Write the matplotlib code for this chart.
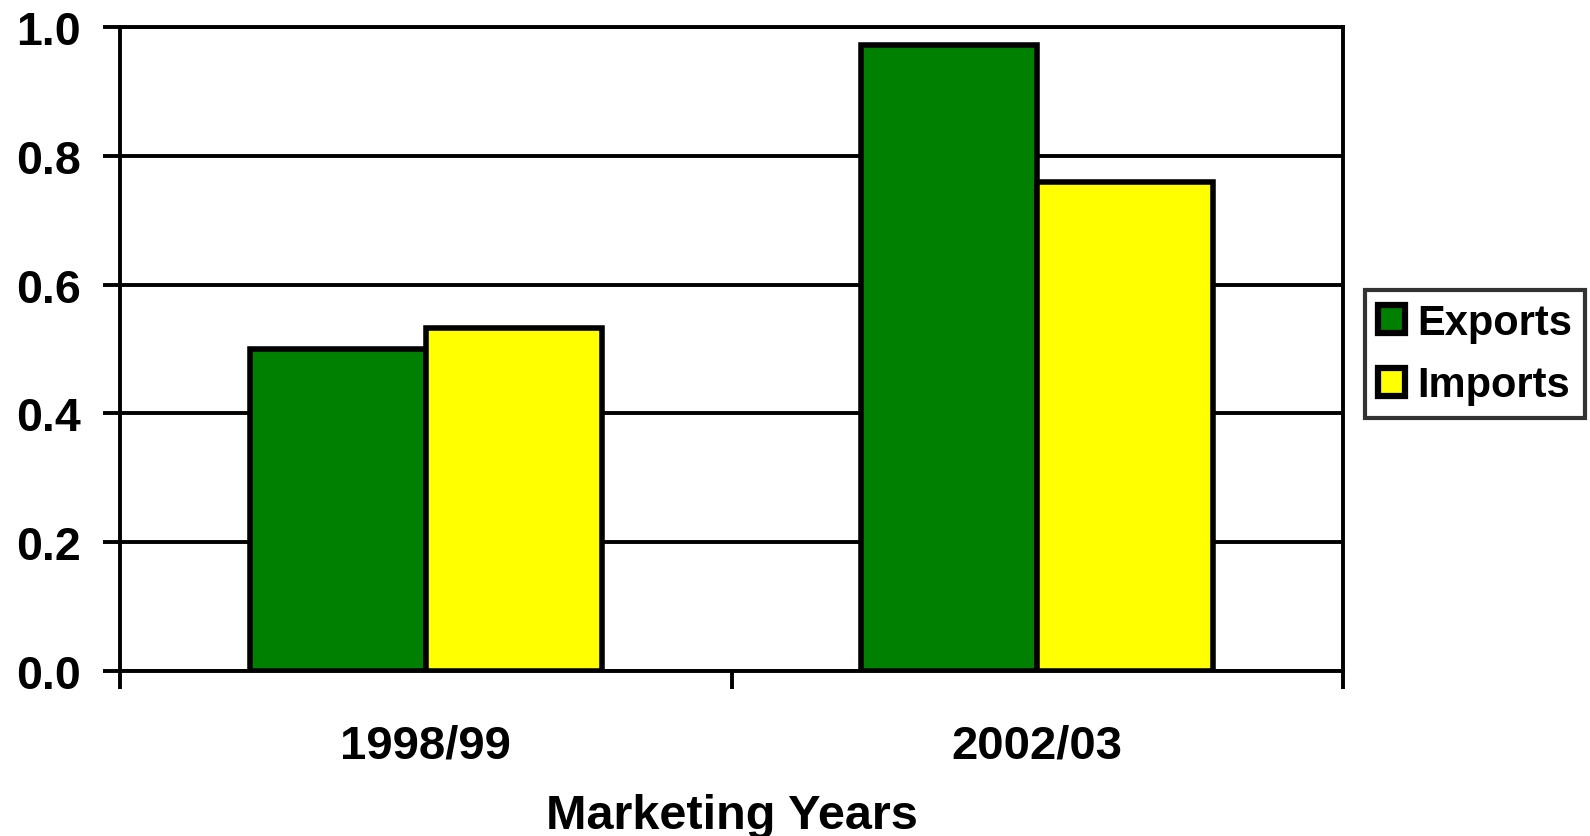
import matplotlib
matplotlib.use("Agg")
import matplotlib.pyplot as plt
import numpy as np

years = ["1998/99", "2002/03"]
exports = [0.50, 0.972]
imports = [0.533, 0.760]
series_names = ["Exports", "Imports"]
yticks = [0.0, 0.2, 0.4, 0.6, 0.8, 1.0]

plt.rcParams['font.family'] = ['Liberation Sans', 'DejaVu Sans']
plt.rcParams['font.weight'] = 'bold'

fig = plt.figure(figsize=(15.9, 8.37), dpi=100)
ax = fig.add_axes([0.0755, 0.1971, 0.8447 - 0.0755, 0.9665 - 0.1971])

centers = np.arange(len(years)) + 0.5
width = 0.288

ax.bar(centers - width / 2, exports, width, color="#008000", edgecolor="black",
       linewidth=4, label=series_names[0], zorder=3)
ax.bar(centers + width / 2, imports, width, color="#FFFF00", edgecolor="black",
       linewidth=4, label=series_names[1], zorder=3)

ax.set_xlim(0, len(years))
ax.set_ylim(0, 1.0)

# horizontal gridlines
for yv in yticks:
    ax.axhline(yv, color="black", linewidth=2.8, zorder=1)

ax.set_yticks(yticks)
ax.set_yticklabels(["{:.1f}".format(v) for v in yticks], fontsize=33.5, fontweight='bold')

# category boundary ticks, labels in between
ax.set_xticks(np.arange(len(years) + 1))
ax.set_xticklabels([])
ax.set_xticks(centers, minor=True)
ax.set_xticklabels(years, minor=True, fontsize=34, fontweight='bold')
ax.tick_params(axis='x', which='minor', length=0, pad=38)
ax.tick_params(axis='x', which='major', length=13, width=2.8, direction='out')
ax.tick_params(axis='y', length=12, width=2.8, direction='out', pad=16)

for sp in ax.spines.values():
    sp.set_linewidth(2.8)
    sp.set_color("black")

ax.set_xlabel("Marketing Years", fontsize=35, fontweight='bold', labelpad=18)

leg = ax.legend(loc='upper left', bbox_to_anchor=(1365 / 1590, 1 - 291 / 837),
                bbox_transform=fig.transFigure, borderaxespad=0, fancybox=False,
                frameon=True, edgecolor="black", handlelength=0.65,
                handleheight=0.65, handletextpad=0.3, labelspacing=0.55,
                borderpad=0.3, prop={'weight': 'bold', 'size': 30})
leg.get_frame().set_linewidth(3)
for h in leg.legend_handles:
    h.set_linewidth(4.5)

fig.savefig("out.png", dpi=100)
